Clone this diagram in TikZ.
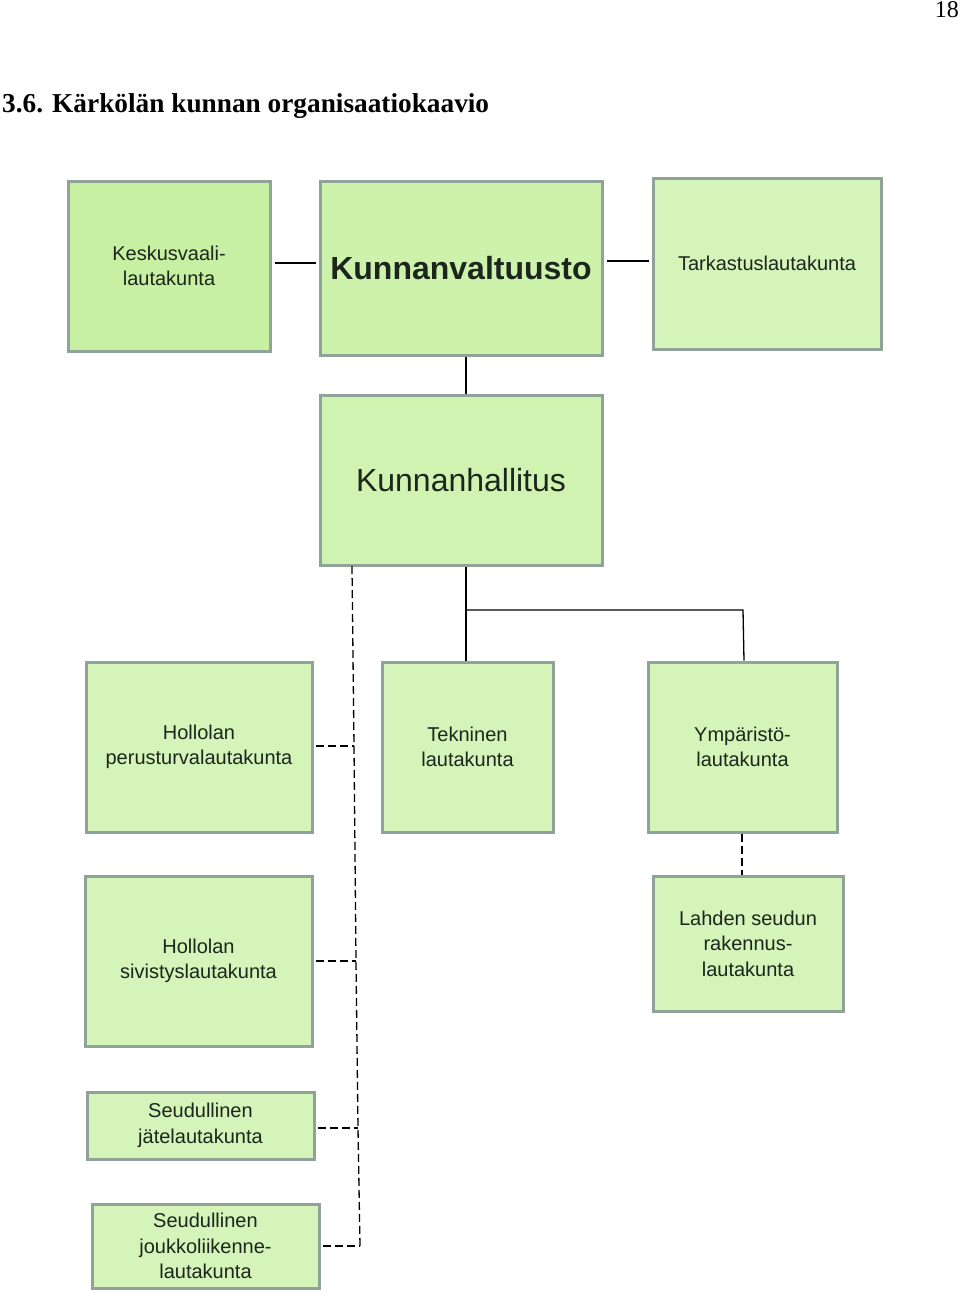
\documentclass[tikz,border=0pt]{standalone}
\usepackage{fontspec}
\setmainfont{Liberation Serif}
\newfontfamily\boxfont{Liberation Sans}
\begin{document}
\begin{tikzpicture}[x=1pt,y=-1pt,
  orgbox/.style={draw=boxborder,line width=3pt,fill=boxfill,inner sep=0pt,align=center,text=boxtext,font=\boxfont\fontsize{20}{25.5}\selectfont},
  firstbox/.style={orgbox,fill=boxfillA},
  conn/.style={line width=1.3pt,black},
  dconn/.style={line width=1.3pt,black,dash pattern=on 8pt off 4pt}]
\definecolor{boxborder}{HTML}{8FA398}
\definecolor{boxfill}{HTML}{D4F4BA}
\definecolor{boxfillA}{HTML}{C7F0A2}
\definecolor{boxfillB}{HTML}{CDF2AC}
\definecolor{boxtext}{HTML}{1C261C}
\useasboundingbox (0,0) rectangle (960,1310);
\node[anchor=north east,font=\fontsize{24}{26}\selectfont,inner sep=0pt] (pg) at (959,1) {18};
\node[anchor=base west,inner sep=0pt,font=\bfseries\fontsize{27.3}{30}\selectfont] (title) at (2,112) {3.6. Kärkölän kunnan organisaatiokaavio};
% boxes
\node[firstbox,minimum width=202pt,minimum height=170pt] (kv) at (169,266) {Keskusvaali-\\lautakunta};
\node[orgbox,fill=boxfillB,minimum width=282pt,minimum height=174pt,font=\boxfont\bfseries\fontsize{32}{36}\selectfont] (val) at (461,268) {Kunnanvaltuusto};
\node[orgbox,minimum width=228pt,minimum height=171pt] (tark) at (767,263.5) {Tarkastuslautakunta};
\node[orgbox,fill=boxfillB!60!boxfill,minimum width=282pt,minimum height=170pt,font=\boxfont\fontsize{32}{36}\selectfont] (hall) at (461,480) {Kunnanhallitus};
\node[orgbox,minimum width=226pt,minimum height=170pt] (peru) at (199,747) {Hollolan\\perusturvalautakunta};
\node[orgbox,minimum width=171pt,minimum height=170pt] (tekn) at (467.5,747) {Tekninen\\lautakunta};
\node[orgbox,minimum width=189pt,minimum height=170pt] (ymp) at (742.5,747) {Ympäristö-\\lautakunta};
\node[orgbox,minimum width=190pt,minimum height=135pt] (lah) at (748,943.5) {Lahden seudun\\rakennus-\\lautakunta};
\node[orgbox,minimum width=227pt,minimum height=170pt] (sivi) at (198.5,961) {Hollolan\\sivistyslautakunta};
\node[orgbox,minimum width=227pt,minimum height=67pt] (jate) at (200.5,1125.5) {Seudullinen\\jätelautakunta};
\node[orgbox,minimum width=227pt,minimum height=84pt] (jouk) at (205.5,1246) {Seudullinen\\joukkoliikenne-\\lautakunta};
% connectors
\draw[conn] ([xshift=3pt]kv.east |- 0,263) -- ([xshift=-3pt]val.west |- 0,263);
\draw[conn] ([xshift=3pt]val.east |- 0,261) -- ([xshift=-3pt]tark.west |- 0,261);
\draw[conn] (val.south -| 466,0) -- (hall.north -| 466,0);
\draw[conn] (hall.south -| 466,0) -- (tekn.north -| 466,0);
\coordinate (br) at (466,610);
\coordinate (bc) at (743,610);
\draw[conn] (br) -- (bc) -- (ymp.north -| 744,0);
\draw[dconn] (ymp.south -| 742,0) -- (lah.north -| 742,0);
\coordinate (dtop) at (352,566);
\coordinate (d1) at (354,746);
\coordinate (d2) at (356,961);
\coordinate (d3) at (358,1128);
\coordinate (d4) at (360,1246);
\draw[dconn] (dtop) -- (d1) -- (d2) -- (d3) -- (d4);
\draw[dconn] ([xshift=2pt]peru.east |- d1) -- (d1);
\draw[dconn] ([xshift=2pt]sivi.east |- d2) -- (d2);
\draw[dconn] ([xshift=2pt]jate.east |- d3) -- (d3);
\draw[dconn] ([xshift=2pt]jouk.east |- d4) -- (d4);
\end{tikzpicture}
\end{document}
